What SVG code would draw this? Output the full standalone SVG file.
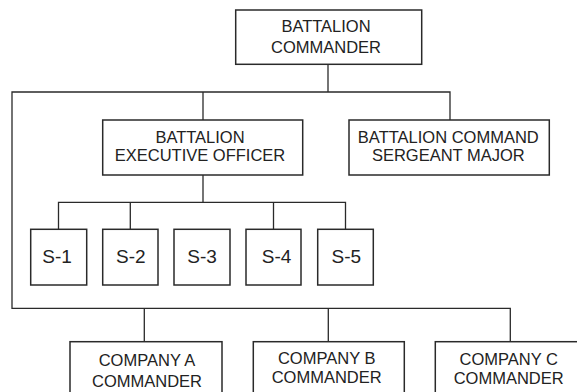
<svg xmlns="http://www.w3.org/2000/svg" width="577" height="392" viewBox="0 0 577 392">
  <style>
    .box { fill: #ffffff; stroke: #2a2a2a; stroke-width: 1.5; }
    .conn { fill: none; stroke: #2a2a2a; stroke-width: 1.3; }
    .t { font-family: "Liberation Sans", Arial, sans-serif; font-size: 16.5px; fill: #222222; text-anchor: middle; }
    .s { font-family: "Liberation Sans", Arial, sans-serif; font-size: 19px; fill: #222222; text-anchor: middle; }
  </style>
  <rect width="577" height="392" fill="#ffffff"/>
  <g id="connectors" class="conn">
    <path d="M328,64 V92"/>
    <path d="M450,120 V92 H12 V308.3 H510.3 V341.7"/>
    <path d="M203,92 V120"/>
    <path d="M203,175 V202.3"/>
    <path d="M58.5,229.3 V202.3 H345.5 V229.3"/>
    <path d="M130.3,202.3 V229.3"/>
    <path d="M273.5,202.3 V229.3"/>
    <path d="M144.3,308.3 V341.7"/>
    <path d="M328.3,308.3 V341.7"/>
  </g>
  <g id="battalion-commander">
    <rect class="box" x="235.7" y="10" width="186" height="54.3"/>
    <text class="t" x="326" y="32.3">BATTALION</text>
    <text class="t" x="326" y="52.7">COMMANDER</text>
  </g>
  <g id="executive-officer">
    <rect class="box" x="102.7" y="120" width="200" height="55"/>
    <text class="t" x="200" y="143.3">BATTALION</text>
    <text class="t" x="200" y="160.7">EXECUTIVE OFFICER</text>
  </g>
  <g id="sergeant-major">
    <rect class="box" x="349" y="120" width="200.3" height="55"/>
    <text class="t" x="448.3" y="143.3">BATTALION COMMAND</text>
    <text class="t" x="448.3" y="160.7">SERGEANT MAJOR</text>
  </g>
  <g id="s1">
    <rect class="box" x="30.7" y="229.3" width="56" height="55.7"/>
    <text class="s" x="57" y="263.3">S-1</text>
  </g>
  <g id="s2">
    <rect class="box" x="102.7" y="229.3" width="55.3" height="55.7"/>
    <text class="s" x="130.8" y="263.3">S-2</text>
  </g>
  <g id="s3">
    <rect class="box" x="174" y="229.3" width="56" height="55.7"/>
    <text class="s" x="202" y="263.3">S-3</text>
  </g>
  <g id="s4">
    <rect class="box" x="246" y="229.3" width="55" height="55.7"/>
    <text class="s" x="276.5" y="263.3">S-4</text>
  </g>
  <g id="s5">
    <rect class="box" x="317.7" y="229.3" width="55.6" height="55.7"/>
    <text class="s" x="346.3" y="263.3">S-5</text>
  </g>
  <g id="company-a">
    <rect class="box" x="70" y="341.7" width="152" height="60"/>
    <text class="t" x="147" y="366">COMPANY A</text>
    <text class="t" x="147" y="386.7">COMMANDER</text>
  </g>
  <g id="company-b">
    <rect class="box" x="253.3" y="341.7" width="151" height="60"/>
    <text class="t" x="326.7" y="364">COMPANY B</text>
    <text class="t" x="326.7" y="383.3">COMMANDER</text>
  </g>
  <g id="company-c">
    <rect class="box" x="435.3" y="341.7" width="151" height="60"/>
    <text class="t" x="508.7" y="365">COMPANY C</text>
    <text class="t" x="508.7" y="384">COMMANDER</text>
  </g>
</svg>
